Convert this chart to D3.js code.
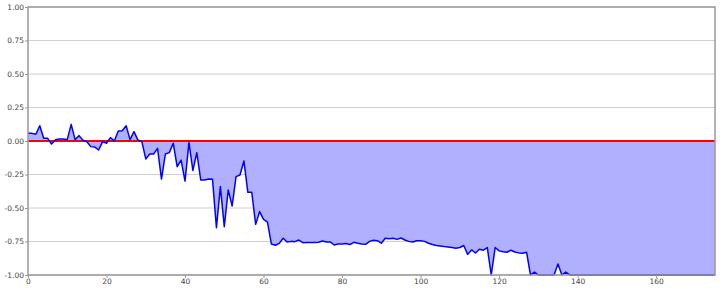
<!DOCTYPE html>
<html>
<head>
<meta charset="utf-8">
<script src="https://cdn.jsdelivr.net/npm/d3@7"></script>
<style>
  body { margin: 0; background: #fff; }
  svg { display: block; font-family: 'DejaVu Sans', sans-serif; }
</style>
</head>
<body>
<div id="chart"></div>
<script>
// series values, one per step (x = index)
var values = [
  0.057, 0.057, 0.05, 0.114, 0.02, 0.02, -0.022, 0.01, 0.015, 0.015,
  0.01, 0.124, 0.01, 0.04, 0.005, -0.005, -0.042, -0.045, -0.067, -0.005,
  -0.017, 0.025, 0.0, 0.075, 0.077, 0.114, 0.01, 0.07, 0.007, -0.005,
  -0.134, -0.097, -0.097, -0.055, -0.284, -0.097, -0.087, -0.017, -0.192, -0.142,
  -0.299, -0.012, -0.22, -0.087, -0.291, -0.291, -0.284, -0.286, -0.647, -0.34,
  -0.64, -0.365, -0.485, -0.266, -0.254, -0.149, -0.383, -0.383, -0.622, -0.527,
  -0.585, -0.605, -0.769, -0.778, -0.764, -0.726, -0.754, -0.749, -0.751, -0.739,
  -0.759, -0.757, -0.757, -0.757, -0.755, -0.746, -0.754, -0.753, -0.776, -0.768,
  -0.768, -0.765, -0.773, -0.756, -0.763, -0.768, -0.771, -0.749, -0.741, -0.744,
  -0.763, -0.726, -0.729, -0.726, -0.734, -0.724, -0.739, -0.749, -0.754, -0.744,
  -0.744, -0.749, -0.763, -0.773, -0.78, -0.784, -0.788, -0.791, -0.795, -0.8,
  -0.795, -0.78, -0.846, -0.813, -0.836, -0.808, -0.815, -0.795, -1.0, -0.795,
  -0.82, -0.826, -0.83, -0.815, -0.828, -0.835, -0.838, -0.83, -1.0, -0.978,
  -1.0, -1.0, -1.0, -1.0, -1.0, -0.918, -1.0, -0.978, -1.0, -1.0,
  -1.0, -1.0, -1.0, -1.0, -1.0, -1.0, -1.0, -1.0, -1.0, -1.0,
  -1.0, -1.0, -1.0, -1.0, -1.0, -1.0, -1.0, -1.0, -1.0, -1.0,
  -1.0, -1.0, -1.0, -1.0, -1.0, -1.0, -1.0, -1.0, -1.0, -1.0,
  -1.0, -1.0, -1.0, -1.0, -1.0, -1.0
]
var x_ticks = [0, 20, 40, 60, 80, 100, 120, 140, 160]
var y_ticks = [-1.0, -0.75, -0.5, -0.25, 0.0, 0.25, 0.5, 0.75, 1.0]
var x_max = 175
var baseline = 0

var w = 720
var h = 290
var margin = { left: 28, right: 5, top: 7, bottom: 15 }

var svg = d3.select('#chart').append('svg')
  .attr('width', w)
  .attr('height', h)

var x = d3.scaleLinear().domain([0, x_max]).range([margin.left, w - margin.right])
var y = d3.scaleLinear().domain([-1, 1]).range([h - margin.bottom, margin.top])

// grid
svg.append('g').selectAll('line')
  .data(y_ticks)
  .enter().append('line')
  .attr('x1', x(0)).attr('x2', x(x_max))
  .attr('y1', function (d) { return y(d) })
  .attr('y2', function (d) { return y(d) })
  .attr('stroke', '#d0d0d0')
  .attr('stroke-width', 1)

// fill between series and baseline
var area = d3.area()
  .x(function (d, i) { return x(i) })
  .y0(y(baseline))
  .y1(function (d) { return y(d) })
svg.append('path')
  .datum(values)
  .attr('d', area)
  .attr('fill', '#b0b0ff')

// baseline
svg.append('line')
  .attr('x1', x(0)).attr('x2', x(x_max))
  .attr('y1', y(baseline)).attr('y2', y(baseline))
  .attr('stroke', '#ff0000')
  .attr('stroke-width', 2)

// series line
var line = d3.line()
  .x(function (d, i) { return x(i) })
  .y(function (d) { return y(d) })
svg.append('path')
  .datum(values)
  .attr('d', line)
  .attr('fill', 'none')
  .attr('stroke', '#0000ff')
  .attr('stroke-width', 1.5)
  .attr('stroke-linejoin', 'round')

// frame
svg.append('rect')
  .attr('x', x(0)).attr('y', y(1))
  .attr('width', x(x_max) - x(0))
  .attr('height', y(-1) - y(1))
  .attr('fill', 'none')
  .attr('stroke', '#999')
  .attr('stroke-width', 1.5)

// axes
var x_axis = svg.append('g')
  .attr('transform', 'translate(0,' + y(-1) + ')')
  .call(d3.axisBottom(x).tickValues(x_ticks).tickSize(3).tickPadding(1).tickFormat(d3.format('d')))
var y_axis = svg.append('g')
  .attr('transform', 'translate(' + x(0) + ',0)')
  .call(d3.axisLeft(y).tickValues(y_ticks).tickSize(3).tickPadding(1).tickFormat(function (d) {
    return d3.format('.2f')(d).replace('\u2212', '-')
  }))

;[x_axis, y_axis].forEach(function (g) {
  g.select('.domain').remove()
  g.selectAll('.tick line').attr('stroke', '#999')
  g.selectAll('.tick text')
    .attr('fill', '#444')
    .style('font-size', '7.5px')
    .style('font-family', "'DejaVu Sans', sans-serif")
})
</script>
</body>
</html>
